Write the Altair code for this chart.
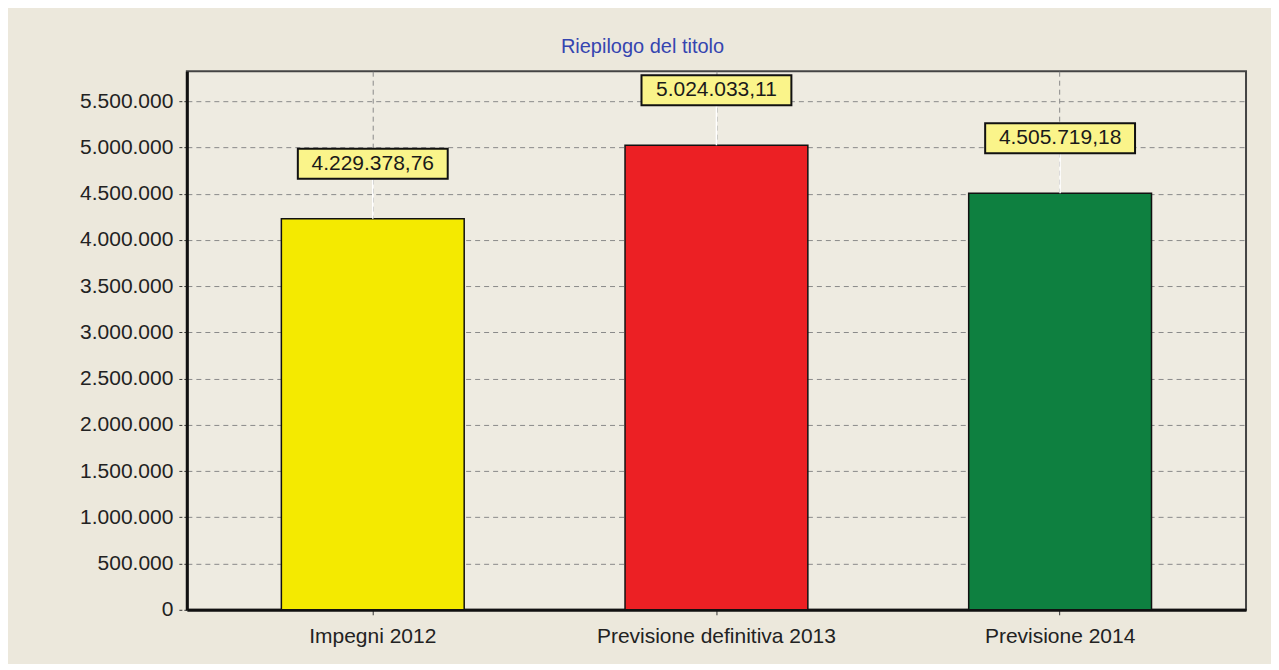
import altair as alt
import pandas as pd

categories = ["Impegni 2012", "Previsione definitiva 2013", "Previsione 2014"]
values = [4229378.76, 5024033.11, 4505719.18]
bar_colors = ["#F4EA00", "#EC2024", "#0E8040"]
y_ticks = [0, 500000, 1000000, 1500000, 2000000, 2500000, 3000000,
           3500000, 4000000, 4500000, 5000000, 5500000]
title_text = "Riepilogo del titolo"


def it_fmt(v):
    s = f"{v:,.2f}"
    return s.replace(",", "X").replace(".", ",").replace("X", ".")


df = pd.DataFrame({
    "cat": categories,
    "value": values,
    "label": [it_fmt(v) for v in values],
    "color": bar_colors,
})

FONT = "Liberation Sans"

x_enc = alt.X(
    "cat:N",
    sort=categories,
    scale=alt.Scale(paddingInner=0.468, paddingOuter=0.275),
    axis=alt.Axis(
        title=None, labelAngle=0, bandPosition=0.5, grid=True,
        gridColor="#8a8a8a", gridDash=[5, 4], gridWidth=1,
        domainColor="#111", domainWidth=3,
        tickColor="#333", tickSize=5, tickWidth=1,
        labelFont=FONT, labelFontSize=21, labelColor="#222",
        labelPadding=11, labelLimit=600,
    ),
)
y_scale = alt.Scale(domain=[0, 5825000], nice=False)
y_enc = alt.Y(
    "value:Q",
    scale=y_scale,
    axis=alt.Axis(
        title=None, values=y_ticks,
        labelExpr="replace(replace(format(datum.value, ','), ',', '.'), ',', '.')",
        grid=True, gridColor="#8a8a8a", gridDash=[5, 4], gridWidth=1,
        domainColor="#111", domainWidth=3,
        tickColor="#333", tickSize=8, tickWidth=1, tickDash=[3, 2],
        labelFont=FONT, labelFontSize=21, labelColor="#222",
        labelPadding=6,
    ),
)

base = alt.Chart(df)

bars = base.mark_bar(stroke="#111", strokeWidth=1.5).encode(
    x=x_enc,
    y=y_enc,
    color=alt.Color("color:N", scale=None),
)

connector = base.mark_rule(color="white", strokeWidth=1.5, y2Offset=-40).encode(
    x=alt.X("cat:N", sort=categories),
    y=alt.Y("value:Q"),
    y2=alt.Y2("value"),
)

boxes = base.mark_bar(
    width=150, fill="#FAF48A", stroke="#111", strokeWidth=2,
    yOffset=-70, y2Offset=-40,
).encode(
    x=alt.X("cat:N", sort=categories),
    y=alt.Y("value:Q"),
    y2=alt.Y2("value"),
)

texts = base.mark_text(
    dy=-55, font=FONT, fontSize=21, color="#1a1a1a", baseline="middle",
).encode(
    x=alt.X("cat:N", sort=categories),
    y=alt.Y("value:Q"),
    text="label:N",
)

chart = (
    alt.layer(bars, connector, boxes, texts)
    .properties(
        width=1060,
        height=539,
        autosize=alt.AutoSizeParams(type="none"),
        padding={"left": 179, "top": 63, "right": 25, "bottom": 54},
        title=alt.Title(
            title_text, font=FONT, fontSize=20, fontWeight="normal",
            color="#3545B0", anchor="middle", dx=-74, dy=16, offset=14,
            baseline="alphabetic",
        ),
    )
    .configure(background="#ECE8DC")
    .configure_view(stroke="#444", strokeWidth=2, fill="#EEEBE1")
)

chart.save("out.html", embed_options={"renderer": "svg", "actions": False})
